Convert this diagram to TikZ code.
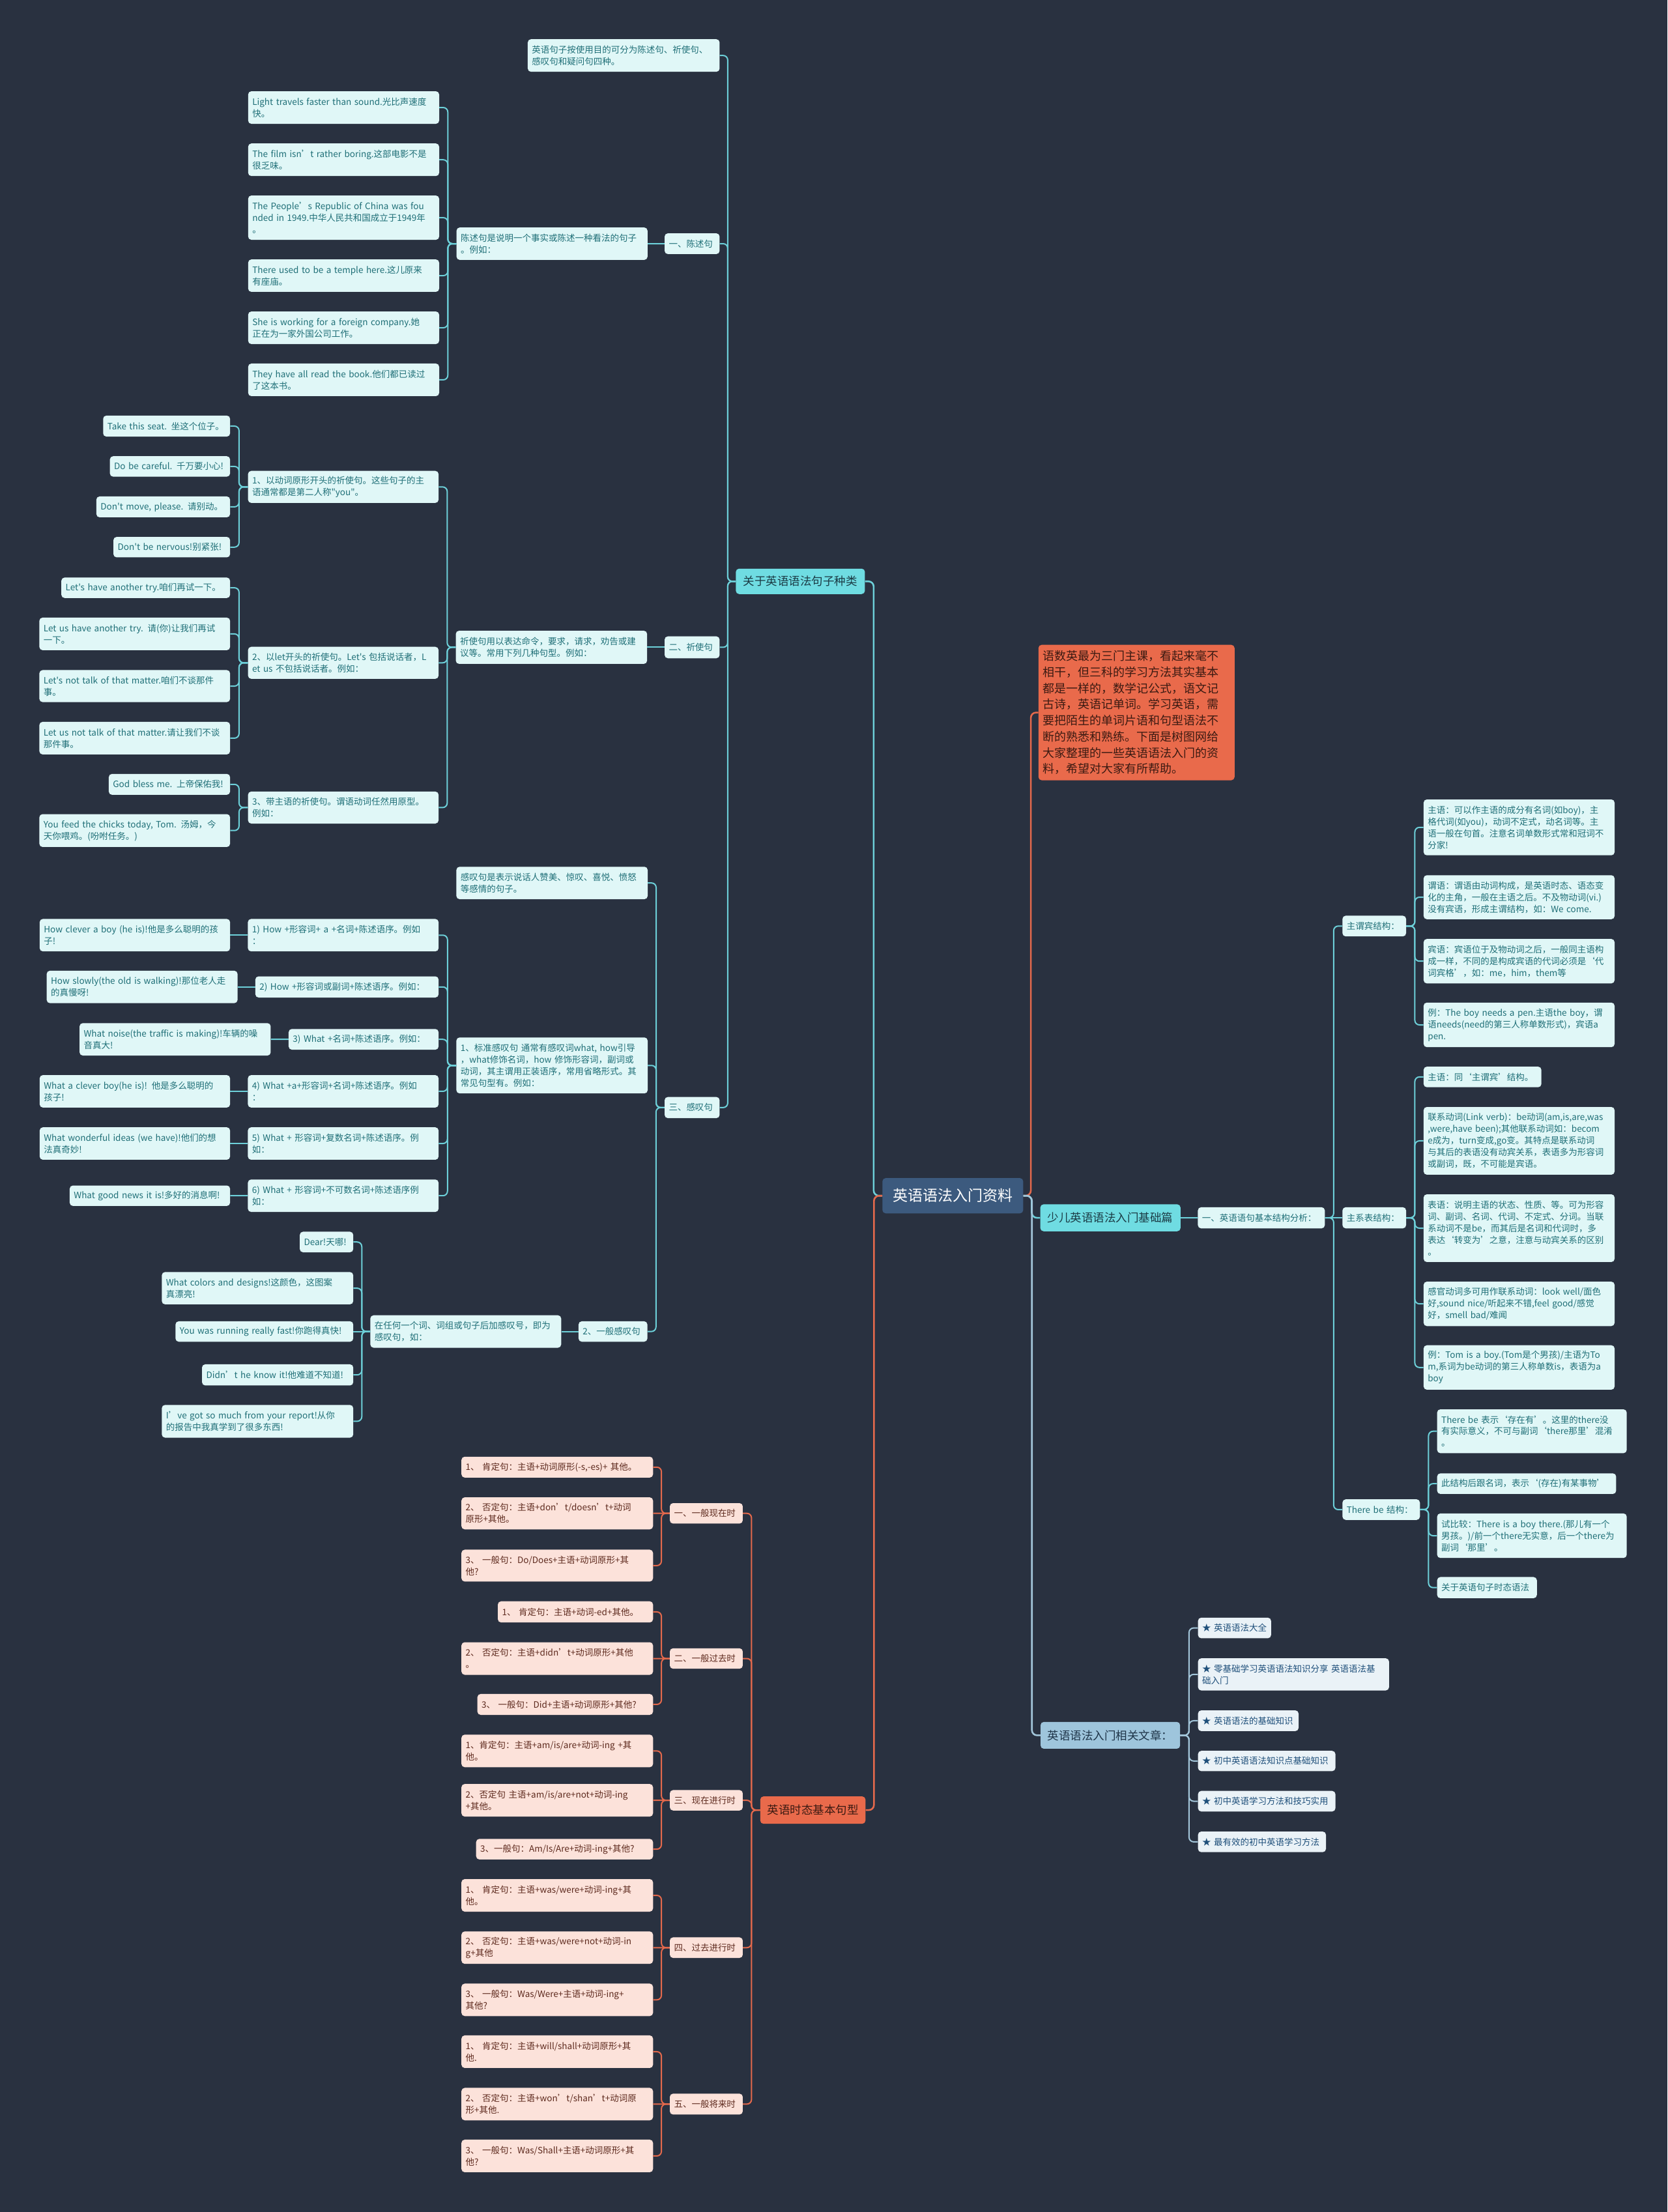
\documentclass[tikz,border=0pt]{standalone}
\usepackage{fontspec}
\setmainfont{Noto Sans CJK SC}[Ligatures=TeXOff]
\usetikzlibrary{calc}
\setlength\parindent{0pt}
\definecolor{bgc}{HTML}{293140}
\definecolor{lfc}{HTML}{E0F7F7}
\definecolor{txc}{HTML}{1F6F77}
\definecolor{lfo}{HTML}{FCE2DA}
\definecolor{txo}{HTML}{5E2A1E}
\definecolor{lfb}{HTML}{EAF2F7}
\definecolor{txb}{HTML}{1E4F7A}
\definecolor{mnc}{HTML}{6FDCE2}
\definecolor{txm}{HTML}{1B3B45}
\definecolor{mno}{HTML}{E96A4B}
\definecolor{txmo}{HTML}{3B1A12}
\definecolor{mnb}{HTML}{9EC5DC}
\definecolor{txmb}{HTML}{1E3448}
\definecolor{ctrc}{HTML}{3C5A7E}
\definecolor{lnc}{HTML}{6DD0D9}
\definecolor{lno}{HTML}{E4694C}
\definecolor{lnb}{HTML}{A3C6DA}
\newcommand\fsleaf{\fontsize{13.5}{18}\selectfont}
\newcommand\fsmain{\fontsize{17.5}{21}\selectfont}
\newcommand\fsctr{\fontsize{23}{28}\selectfont}
\newcommand\fsred{\fontsize{18}{24.75}\selectfont}
\tikzset{
 nb/.style={rounded corners=5pt, inner ysep=0pt, inner xsep=6.5pt, align=left},
 lfC/.style={nb, fill=lfc, text=txc, font=\fsleaf},
 lfO/.style={nb, fill=lfo, text=txo, font=\fsleaf},
 lfB/.style={nb, fill=lfb, text=txb, font=\fsleaf},
 mnC/.style={nb, fill=mnc, text=txm, font=\fsmain, align=center},
 mnO/.style={nb, fill=mno, text=txmo, font=\fsmain, align=center},
 mnB/.style={nb, fill=mnb, text=txmb, font=\fsmain, align=center},
 ctr/.style={nb, fill=ctrc, text=white, font=\fsctr, align=center},
 rbox/.style={nb, fill=mno, text=txmo, font=\fsred, align=left},
 lnC/.style={draw=lnc, line width=2pt, rounded corners=7pt},
 lnO/.style={draw=lno, line width=2pt, rounded corners=7pt},
 lnB/.style={draw=lnb, line width=2pt, rounded corners=7pt},
 lnCm/.style={draw=lnc, line width=2.6pt, rounded corners=8pt},
 lnOm/.style={draw=lno, line width=2.6pt, rounded corners=8pt},
 lnBm/.style={draw=lnb, line width=2.6pt, rounded corners=8pt},
}
\newcommand\mmB[7]{\pgfmathsetmacro\mmw{(#5-#3)*2.1658}\pgfmathsetmacro\mmh{(#6-#4)*2.1658}\pgfmathsetmacro\mmt{\mmw-13}\node[#2,anchor=north west,minimum width=\mmw pt,minimum height=\mmh pt,text width=\mmt pt] (#1) at (#3,#4) {#7};}
\newcommand\conL[3][lnC]{\draw[#1] let \p1=(#2.west), \p2=(#3.east) in (\p1) -- ({(\x1+\x2)/2},\y1) |- (\p2);}
\newcommand\conR[3][lnC]{\draw[#1] let \p1=(#2.east), \p2=(#3.west) in (\p1) -- ({(\x1+\x2)/2},\y1) |- (\p2);}
\newcommand\conS[3][lnC]{\draw[#1] (#2.west) -- (#3.east);}
\newcommand\conSR[3][lnC]{\draw[#1] (#2.east) -- (#3.west);}
\begin{document}
\begin{tikzpicture}[x=2.1658pt, y=-2.1658pt]
\fill[bgc] (0,0) rectangle (1182,1568);
\useasboundingbox (0,0) rectangle (1182,1568);
% centre and main branches
\mmB{cen}{ctr}{625.4}{835}{725.2}{860}{英语语法入门资料}
\mmB{b1}{mnC}{521.5}{403}{613}{421}{关于英语语法句子种类}
\mmB{b2}{mnO}{538.8}{1273.3}{613.4}{1292.7}{英语时态基本句型}
\mmB{rb}{rbox}{736}{457}{875}{553}{语数英最为三门主课，看起来毫不\\相干，但三科的学习方法其实基本\\都是一样的，数学记公式，语文记\\古诗，英语记单词。学习英语，需\\要把陌生的单词片语和句型语法不\\断的熟悉和熟练。下面是树图网给\\大家整理的一些英语语法入门的资\\料，希望对大家有所帮助。}
\mmB{b3}{mnC}{737.3}{853.6}{836.7}{872.7}{少儿英语语法入门基础篇}
\mmB{b4}{mnB}{737.5}{1220.5}{836.4}{1239.5}{英语语法入门相关文章：}
% section 1
\mmB{s0}{lfC}{374}{27.7}{510}{50.8}{英语句子按使用目的可分为陈述句、祈使句、\\感叹句和疑问句四种。}
\mmB{s1}{lfC}{471}{165.3}{510}{180}{一、陈述句}
\mmB{s1m}{lfC}{323.5}{161.15}{458.9}{184.15}{陈述句是说明一个事实或陈述一种看法的句子\\。例如：}
\mmB{l11}{lfC}{175.8}{64.6}{311.2}{87.7}{Light travels faster than sound.光比声速度\\快。}
\mmB{l12}{lfC}{175.8}{101.6}{311.2}{124.7}{The film isn’t rather boring.这部电影不是\\很乏味。}
\mmB{l13}{lfC}{175.8}{138.5}{311.2}{169.9}{The People’s Republic of China was fou\\nded in 1949.中华人民共和国成立于1949年\\。}
\mmB{l14}{lfC}{175.8}{183.8}{311.2}{206.8}{There used to be a temple here.这儿原来\\有座庙。}
\mmB{l15}{lfC}{175.8}{220.7}{311.2}{243.8}{She is working for a foreign company.她\\正在为一家外国公司工作。}
\mmB{l16}{lfC}{175.8}{257.6}{311.2}{280.7}{They have all read the book.他们都已读过\\了这本书。}
% section 2
\mmB{s2}{lfC}{471}{451}{510}{466.5}{二、祈使句}
\mmB{s2m}{lfC}{323}{447}{458.6}{470.5}{祈使句用以表达命令，要求，请求，劝告或建\\议等。常用下列几种句型。例如：}
\mmB{i1}{lfC}{175.7}{333.7}{310.8}{356.4}{1、以动词原形开头的祈使句。这些句子的主\\语通常都是第二人称"you"。}
\mmB{i2}{lfC}{175.7}{458.4}{310.8}{481.1}{2、以let开头的祈使句。Let's 包括说话者，L\\et us 不包括说话者。例如：}
\mmB{i3}{lfC}{175.7}{561}{310.8}{583.7}{3、带主语的祈使句。谓语动词任然用原型。\\例如：}
\mmB{i11}{lfC}{73}{294.5}{163}{309.4}{Take this seat. 坐这个位子。}
\mmB{i12}{lfC}{77.8}{323.3}{163}{337.8}{Do be careful. 千万要小心!}
\mmB{i13}{lfC}{68.2}{351.8}{163}{366.6}{Don't move, please. 请别动。}
\mmB{i14}{lfC}{80.3}{380.5}{163}{395}{Don't be nervous!别紧张!}
\mmB{i21}{lfC}{43.4}{409.3}{163}{423.8}{Let's have another try.咱们再试一下。}
\mmB{i22}{lfC}{27.8}{437.7}{163}{460.8}{Let us have another try. 请(你)让我们再试\\一下。}
\mmB{i23}{lfC}{27.8}{474.9}{163}{497.6}{Let's not talk of that matter.咱们不谈那件\\事。}
\mmB{i24}{lfC}{27.8}{511.6}{163}{534.7}{Let us not talk of that matter.请让我们不谈\\那件事。}
\mmB{i31}{lfC}{77}{548.5}{163}{563.3}{God bless me. 上帝保佑我!}
\mmB{i32}{lfC}{27.8}{577}{163}{600.3}{You feed the chicks today, Tom. 汤姆，今\\天你喂鸡。(吩咐任务。)}
% section 3
\mmB{s3}{lfC}{471}{777.5}{510}{792.5}{三、感叹句}
\mmB{e0}{lfC}{323.4}{614.3}{459}{637.3}{感叹句是表示说话人赞美、惊叹、喜悦、愤怒\\等感情的句子。}
\mmB{e1}{lfC}{323.4}{735.3}{459}{775}{1、标准感叹句 通常有感叹词what, how引导\\，what修饰名词，how 修饰形容词，副词或\\动词，其主谓用正装语序，常用省略形式。其\\常见句型有。例如：}
\mmB{e2}{lfC}{410}{936.5}{458.8}{951}{2、一般感叹句}
\mmB{p1}{lfC}{175.6}{651.3}{310.8}{674.3}{1) How +形容词+ a +名词+陈述语序。例如\\：}
\mmB{p2}{lfC}{180.9}{692}{310.8}{707}{2) How +形容词或副词+陈述语序。例如：}
\mmB{p3}{lfC}{204.5}{729.3}{310.8}{744}{3) What +名词+陈述语序。例如：}
\mmB{p4}{lfC}{175.6}{762}{310.8}{785}{4) What +a+形容词+名词+陈述语序。例如\\：}
\mmB{p5}{lfC}{175.6}{799}{310.8}{822}{5) What + 形容词+复数名词+陈述语序。例\\如：}
\mmB{p6}{lfC}{175.6}{836}{310.8}{859}{6) What + 形容词+不可数名词+陈述语序例\\如：}
\mmB{x1}{lfC}{28}{651.3}{163}{674.3}{How clever a boy (he is)!他是多么聪明的孩\\子!}
\mmB{x2}{lfC}{33}{688}{168.3}{711}{How slowly(the old is walking)!那位老人走\\的真慢呀!}
\mmB{x3}{lfC}{56.3}{725.15}{191.8}{748.15}{What noise(the traffic is making)!车辆的噪\\音真大!}
\mmB{x4}{lfC}{28}{762}{163}{785}{What a clever boy(he is)! 他是多么聪明的\\孩子!}
\mmB{x5}{lfC}{28}{799}{163}{822}{What wonderful ideas (we have)!他们的想\\法真奇妙!}
\mmB{x6}{lfC}{49.3}{840.25}{163}{854.75}{What good news it is!多好的消息啊!}
\mmB{em}{lfC}{262.4}{932.25}{397.7}{955.25}{在任何一个词、词组或句子后加感叹号，即为\\感叹句，如：}
\mmB{g1}{lfC}{212.4}{873}{250.3}{887.6}{Dear!天哪!}
\mmB{g2}{lfC}{114.6}{901.6}{250.3}{924.5}{What colors and designs!这颜色，这图案\\真漂亮!}
\mmB{g3}{lfC}{124.3}{936.5}{250.3}{951}{You was running really fast!你跑得真快!}
\mmB{g4}{lfC}{143.1}{967}{250.3}{982}{Didn’t he know it!他难道不知道!}
\mmB{g5}{lfC}{114.6}{995.8}{250.3}{1019}{I’ve got so much from your report!从你\\的报告中我真学到了很多东西!}
% tenses
\mmB{t1}{lfO}{474.7}{1065.4}{526.4}{1079.9}{一、一般现在时}
\mmB{t11}{lfO}{327}{1032.5}{462.8}{1047.3}{1、 肯定句：主语+动词原形(-s,-es)+ 其他。}
\mmB{t12}{lfO}{327}{1061.3}{462.8}{1084}{2、 否定句：主语+don’t/doesn’t+动词\\原形+其他。}
\mmB{t13}{lfO}{327}{1098.4}{462.8}{1121}{3、 一般句：Do/Does+主语+动词原形+其\\他?}
\mmB{t2}{lfO}{474.7}{1168.3}{526.4}{1182.8}{二、一般过去时}
\mmB{t21}{lfO}{352.8}{1135}{462.8}{1150}{1、 肯定句：主语+动词-ed+其他。}
\mmB{t22}{lfO}{327}{1164}{462.8}{1187.1}{2、 否定句：主语+didn’t+动词原形+其他\\。}
\mmB{t23}{lfO}{338.3}{1200.7}{462.8}{1215.5}{3、 一般句：Did+主语+动词原形+其他?}
\mmB{t3}{lfO}{474.7}{1268.8}{526.4}{1283.3}{三、现在进行时}
\mmB{t31}{lfO}{327}{1229.5}{462.8}{1252.6}{1、肯定句：主语+am/is/are+动词-ing +其\\他。}
\mmB{t32}{lfO}{327}{1264.5}{462.8}{1287.6}{2、否定句 主语+am/is/are+not+动词-ing\\+其他。}
\mmB{t33}{lfO}{337.4}{1303.4}{462.8}{1318}{3、一般句：Am/Is/Are+动词-ing+其他?}
\mmB{t4}{lfO}{474.7}{1373.2}{526.4}{1387.8}{四、过去进行时}
\mmB{t41}{lfO}{327}{1331.9}{462.8}{1355}{1、 肯定句：主语+was/were+动词-ing+其\\他。}
\mmB{t42}{lfO}{327}{1369}{462.8}{1392}{2、 否定句：主语+was/were+not+动词-in\\g+其他}
\mmB{t43}{lfO}{327}{1406}{462.8}{1429}{3、 一般句：Was/Were+主语+动词-ing+\\其他?}
\mmB{t5}{lfO}{474.7}{1484}{526.4}{1498.8}{五、一般将来时}
\mmB{t51}{lfO}{327}{1442.7}{462.8}{1465.8}{1、 肯定句：主语+will/shall+动词原形+其\\他.}
\mmB{t52}{lfO}{327}{1479.9}{462.8}{1502.9}{2、 否定句：主语+won’t/shan’t+动词原\\形+其他.}
\mmB{t53}{lfO}{327}{1516.6}{462.8}{1539.7}{3、 一般句：Was/Shall+主语+动词原形+其\\他?}
% right side
\mmB{r1}{lfC}{849}{855.65}{939}{870.65}{一、英语语句基本结构分析：}
\mmB{r11}{lfC}{951.5}{649}{996.6}{663.7}{主谓宾结构：}
\mmB{r12}{lfC}{951.5}{855.65}{996.6}{870.65}{主系表结构：}
\mmB{r13}{lfC}{951.5}{1062.7}{1006.4}{1077.3}{There be 结构：}
\mmB{q1}{lfC}{1009}{566.6}{1144.4}{606.2}{主语：可以作主语的成分有名词(如boy)，主\\格代词(如you)，动词不定式，动名词等。主\\语一般在句首。注意名词单数形式常和冠词不\\分家!}
\mmB{q2}{lfC}{1009}{620.3}{1144.4}{651.5}{谓语：谓语由动词构成，是英语时态、语态变\\化的主角，一般在主语之后。不及物动词(vi.)\\没有宾语，形成主谓结构，如：We come.}
\mmB{q3}{lfC}{1009}{665.5}{1144.4}{697}{宾语：宾语位于及物动词之后，一般同主语构\\成一样，不同的是构成宾语的代词必须是‘代\\词宾格’，如：me，him，them等}
\mmB{q4}{lfC}{1009}{710.6}{1144.4}{742.2}{例：The boy needs a pen.主语the boy，谓\\语needs(need的第三人称单数形式)，宾语a\\pen.}
\mmB{q5}{lfC}{1009}{756}{1092.5}{770.6}{主语：同‘主谓宾’结构。}
\mmB{q6}{lfC}{1009}{784.6}{1144.4}{832.6}{联系动词(Link verb)：be动词(am,is,are,was\\,were,have been);其他联系动词如：becom\\e成为，turn变成,go变。其特点是联系动词\\与其后的表语没有动宾关系，表语多为形容词\\或副词，既，不可能是宾语。}
\mmB{q7}{lfC}{1009}{846.5}{1144.4}{894.5}{表语：说明主语的状态、性质、等。可为形容\\词、副词、名词、代词、不定式、分词。当联\\系动词不是be，而其后是名词和代词时，多\\表达‘转变为’之意，注意与动宾关系的区别\\。}
\mmB{q8}{lfC}{1009}{908.4}{1144.4}{939.9}{感官动词多可用作联系动词：look well/面色\\好,sound nice/听起来不错,feel good/感觉\\好，smell bad/难闻}
\mmB{q9}{lfC}{1009}{953.5}{1144.4}{985}{例：Tom is a boy.(Tom是个男孩)/主语为To\\m,系词为be动词的第三人称单数is，表语为a\\boy}
\mmB{u1}{lfC}{1018.6}{998.9}{1153}{1030}{There be 表示‘存在有’。这里的there没\\有实际意义，不可与副词‘there那里’混淆\\。}
\mmB{u2}{lfC}{1018.6}{1044.3}{1145.5}{1058.9}{此结构后跟名词，表示‘(存在)有某事物’}
\mmB{u3}{lfC}{1018.6}{1072.7}{1153}{1104.3}{试比较：There is a boy there.(那儿有一个\\男孩。)/前一个there无实意，后一个there为\\副词‘那里’。}
\mmB{u4}{lfC}{1018.6}{1117.8}{1089.3}{1132.8}{关于英语句子时态语法}
\mmB{k1}{lfB}{849.1}{1146.6}{900.9}{1161.2}{★ 英语语法大全}
\mmB{k2}{lfB}{849.1}{1175.4}{984.5}{1198.2}{★ 零基础学习英语语法知识分享 英语语法基\\础入门}
\mmB{k3}{lfB}{849.1}{1212.3}{920.4}{1227}{★ 英语语法的基础知识}
\mmB{k4}{lfB}{849.1}{1241}{946.5}{1255.4}{★ 初中英语语法知识点基础知识}
\mmB{k5}{lfB}{849.1}{1269.4}{946.5}{1284}{★ 初中英语学习方法和技巧实用}
\mmB{k6}{lfB}{849.1}{1298.2}{939.8}{1312.8}{★ 最有效的初中英语学习方法}
% connectors
\conL[lnCm]{cen}{b1}
\conL[lnOm]{cen}{b2}
\conR[lnOm]{cen}{rb}
\conR[lnCm]{cen}{b3}
\conR[lnBm]{cen}{b4}
\foreach \nn in {s0,s1,s2,s3} {\conL{b1}{\nn}}
\conS{s1}{s1m}
\foreach \nn in {l11,l12,l13,l14,l15,l16} {\conL{s1m}{\nn}}
\conS{s2}{s2m}
\foreach \nn in {i1,i2,i3} {\conL{s2m}{\nn}}
\foreach \nn in {i11,i12,i13,i14} {\conL{i1}{\nn}}
\foreach \nn in {i21,i22,i23,i24} {\conL{i2}{\nn}}
\foreach \nn in {i31,i32} {\conL{i3}{\nn}}
\foreach \nn in {e0,e1,e2} {\conL{s3}{\nn}}
\foreach \nn in {p1,p2,p3,p4,p5,p6} {\conL{e1}{\nn}}
\foreach \aa/\bb in {p1/x1,p2/x2,p3/x3,p4/x4,p5/x5,p6/x6} {\conS{\aa}{\bb}}
\conS{e2}{em}
\foreach \nn in {g1,g2,g4,g5} {\conL{em}{\nn}}
\conS{em}{g3}
\foreach \nn in {t1,t2,t3,t4,t5} {\conL[lnO]{b2}{\nn}}
\foreach \aa/\bb/\cc in {t1/t11/t13,t2/t21/t23,t3/t31/t33,t4/t41/t43,t5/t51/t53} {\conL[lnO]{\aa}{\bb}\conL[lnO]{\aa}{\cc}}
\conS[lnO]{t1}{t12}
\conS[lnO]{t2}{t22}
\conS[lnO]{t3}{t32}
\conS[lnO]{t4}{t42}
\conS[lnO]{t5}{t52}
\conSR{b3}{r1}
\conR{r1}{r11}
\conSR{r1}{r12}
\conR{r1}{r13}
\foreach \nn in {q1,q2,q3,q4} {\conR{r11}{\nn}}
\foreach \nn in {q5,q6,q7,q8,q9} {\conR{r12}{\nn}}
\foreach \nn in {u1,u2,u3,u4} {\conR{r13}{\nn}}
\foreach \nn in {k1,k2,k3,k4,k5,k6} {\conR[lnB]{b4}{\nn}}
\end{tikzpicture}
\end{document}
